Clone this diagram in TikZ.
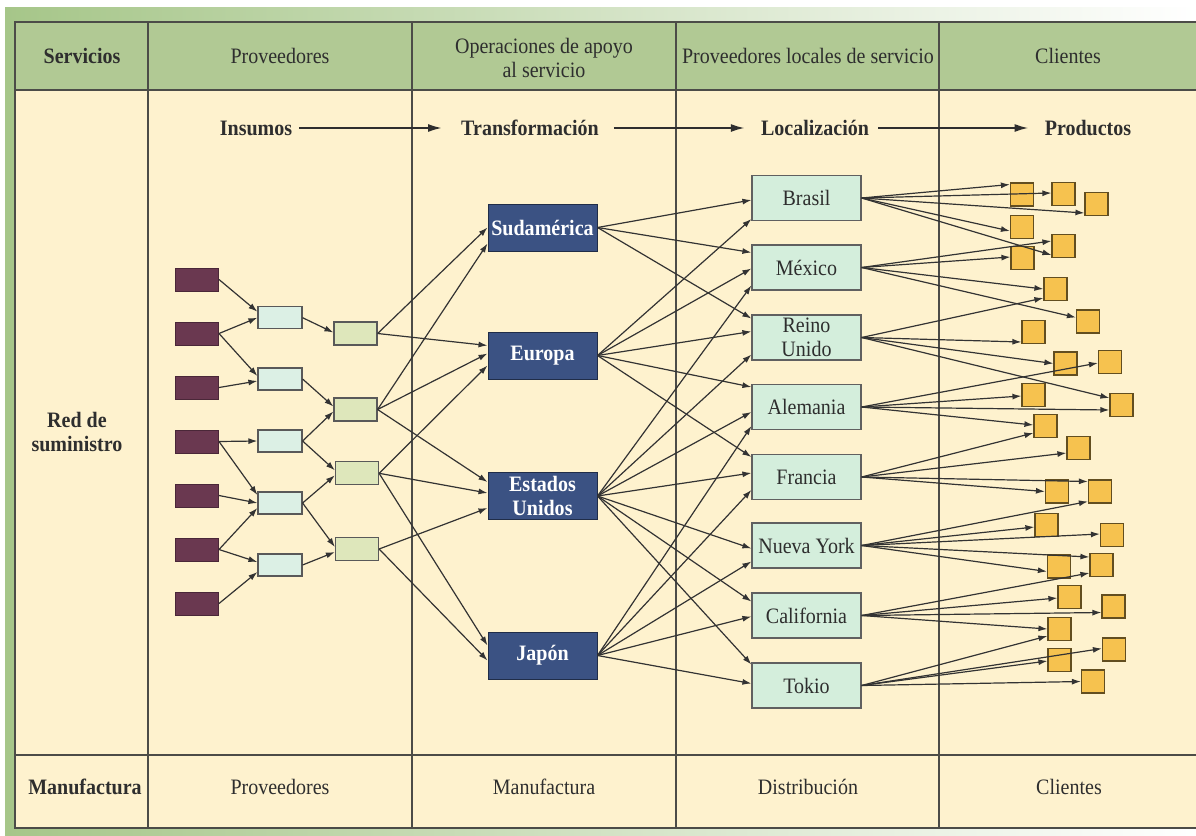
\documentclass[tikz,border=0pt]{standalone}
\usepackage{fontspec}
\setmainfont{Liberation Serif}[FakeStretch=0.91]
\usetikzlibrary{arrows.meta}

\definecolor{frameGreen}{HTML}{A6C689}
\definecolor{headGreen}{HTML}{B1C994}
\definecolor{cream}{HTML}{FEF2CE}
\definecolor{rule}{HTML}{4C4C48}
\definecolor{ink}{HTML}{2E2E2E}
\definecolor{rawred}{HTML}{6A3850}
\definecolor{mint}{HTML}{DCF0E5}
\definecolor{sage}{HTML}{DEE7BB}
\definecolor{navy}{HTML}{3B5283}
\definecolor{locfill}{HTML}{D4EEDC}
\definecolor{gold}{HTML}{F6C24F}
\definecolor{wire}{HTML}{333333}

\newcommand\diagfont{\fontsize{22}{24}\selectfont}
\newcommand\lnk[3]{\draw[link] (#1.east) -- ([yshift=#3pt]#2.west);}

\tikzset{
  every node/.style={font=\diagfont, text=ink},
  txt/.style={inner sep=0pt, align=center},
  boldtxt/.style={txt, font=\diagfont\bfseries},
  rawbox/.style={rectangle, fill=rawred, draw=rawred!70!black, line width=1pt,
    minimum width=43pt, minimum height=23pt, inner sep=0pt},
  partbox/.style={rectangle, fill=mint, draw=gray!70!black, line width=1.2pt,
    minimum width=44pt, minimum height=22pt, inner sep=0pt},
  unitbox/.style={rectangle, fill=sage, draw=gray!70!black, line width=1.2pt,
    minimum width=43pt, minimum height=23pt, inner sep=0pt},
  regionbox/.style={rectangle, fill=navy, draw=navy!55!black, line width=1pt,
    minimum width=109pt, minimum height=47pt, inner sep=0pt, align=center,
    text=white, font=\diagfont\bfseries},
  sitebox/.style={rectangle, fill=locfill, draw=gray!75!black, line width=1.2pt,
    minimum width=109pt, minimum height=45pt, inner sep=0pt, align=center},
  prodbox/.style={rectangle, fill=gold, draw=gold!40!black, line width=1.2pt,
    minimum size=23pt, inner sep=0pt},
  link/.style={draw=wire, line width=1.2pt, -{Latex[length=9pt,width=6pt]}},
  flow/.style={draw=ink, line width=2pt, -{Latex[length=14pt,width=8pt]}},
}

\begin{document}
\begin{tikzpicture}[x=1pt,y=-1pt]
\useasboundingbox (0,0) rectangle (1196,835);
\fill[white] (0,0) rectangle (1196,835);
% green frame behind the table
\shade[left color=frameGreen, right color=white] (5,7) rectangle (1196,835);

% table
\fill[headGreen] (15,22) rectangle (1200,90);
\fill[cream] (15,90) rectangle (1200,828);
\draw[rule, line width=1.5pt] (15,22) rectangle (1200,828);
\draw[rule, line width=1.8pt] (15,90) -- (1200,90);
\draw[rule, line width=1.8pt] (15,755) -- (1200,755);
\foreach \cx in {148,412,676,939}
  \draw[rule, line width=1.3pt] (\cx,22) -- (\cx,828);

% header row
\node[boldtxt] (hServ) at (82,56) {Servicios};
\node[txt] (hProv) at (280,56) {Proveedores};
\node[txt] (hOps) at (544,58) {Operaciones de apoyo\\al servicio};
\node[txt] (hLoc) at (808,56) {Proveedores locales de servicio};
\node[txt] (hCli) at (1068,56) {Clientes};

% stage labels
\node[boldtxt] (insumos) at (256,128) {Insumos};
\node[boldtxt] (transf) at (530,128) {Transformación};
\node[boldtxt] (localiz) at (815,128) {Localización};
\node[boldtxt] (productos) at (1088,128) {Productos};
\draw[flow] ([xshift=7pt]insumos.east) -- ([xshift=-19pt]transf.west);
\draw[flow] ([xshift=15pt]transf.east) -- ([xshift=-16pt]localiz.west);
\draw[flow] ([xshift=9pt]localiz.east) -- ([xshift=-16pt]productos.west);

\node[boldtxt] (red) at (77,432) {Red de\\suministro};

% footer row
\node[boldtxt] (fMan) at (85,787) {Manufactura};
\node[txt] (fProv) at (280,787) {Proveedores};
\node[txt] (fMan2) at (544,787) {Manufactura};
\node[txt] (fDist) at (808,787) {Distribución};
\node[txt] (fCli) at (1069,787) {Clientes};

% raw material sources
\foreach \n/\yy in {1/279.5,2/333.5,3/387.5,4/441.5,5/495.5,6/549.5,7/603.5}
  \node[rawbox] (m\n) at (197,\yy) {};
% parts
\foreach \n/\yy in {1/317.7,2/379,3/441,4/503,5/565}
  \node[partbox] (b\n) at (280,\yy) {};
% units
\node[unitbox] (g1) at (355.5,333.5) {};
\node[unitbox] (g2) at (355.5,409.5) {};
\node[unitbox] (g3) at (357,473.3) {};
\node[unitbox] (g4) at (357,549) {};

% regions
\node[regionbox] (sud) at (542.5,227.5) {Sudamérica};
\node[regionbox] (eur) at (542.5,355.5) {Europa};
\node[regionbox] (usa) at (542.5,496) {Estados\\Unidos};
\node[regionbox] (jap) at (542.5,655.5) {Japón};

% local providers
\node[sitebox] (bra) at (806.5,198) {Brasil};
\node[sitebox] (mex) at (806.5,267.5) {México};
\node[sitebox] (uk) at (806.5,337.5) {Reino\\Unido};
\node[sitebox] (ger) at (806.5,407) {Alemania};
\node[sitebox] (fra) at (806.5,477) {Francia};
\node[sitebox] (ny) at (806.5,545.5) {Nueva York};
\node[sitebox] (cal) at (806.5,615.5) {California};
\node[sitebox] (tok) at (806.5,685.5) {Tokio};

% products
\foreach \n/\xx/\yy in {1/1022/194.5, 2/1063.5/194, 3/1096.5/204, 4/1022/227,
  5/1063.5/246, 6/1022.5/258, 7/1055.5/289, 8/1088/321.5, 9/1033.5/332,
  10/1065.5/363.5, 11/1110/362, 12/1033.5/395, 13/1121.5/405, 14/1045.5/426,
  15/1078.5/448, 16/1057/491.5, 17/1100/491.5, 18/1046.5/525, 19/1112/535,
  20/1059/566.5, 21/1101.5/565, 22/1069.5/597, 23/1113.5/606.5, 24/1059.5/629,
  25/1114/649.5, 26/1059.5/660, 27/1093/681.5}
  \node[prodbox] (p\n) at (\xx,\yy) {};

% sources -> parts
\lnk{m1}{b1}{6}
\lnk{m2}{b1}{0}
\lnk{m2}{b2}{3}
\lnk{m3}{b2}{-2}
\lnk{m4}{b3}{0}
\lnk{m4}{b4}{8}
\lnk{m5}{b4}{0}
\lnk{m6}{b4}{-5}
\lnk{m6}{b5}{3}
\lnk{m7}{b5}{-7}
% parts -> units
\lnk{b1}{g1}{1}
\lnk{b2}{g2}{3}
\lnk{b3}{g2}{-2}
\lnk{b3}{g3}{3}
\lnk{b4}{g3}{-2}
\lnk{b4}{g4}{2}
\lnk{b5}{g4}{-3}
% units -> regions
\lnk{g1}{sud}{0}
\lnk{g2}{sud}{-16}
\lnk{g1}{eur}{10}
\lnk{g2}{eur}{2}
\lnk{g3}{eur}{-10}
\lnk{g2}{usa}{14}
\lnk{g3}{usa}{3}
\lnk{g4}{usa}{-12}
\lnk{g3}{jap}{10}
\lnk{g4}{jap}{-5}
% regions -> local providers
\lnk{sud}{bra}{-2}
\lnk{sud}{mex}{15}
\lnk{sud}{uk}{19}
\lnk{eur}{bra}{-21}
\lnk{eur}{mex}{-1}
\lnk{eur}{uk}{6}
\lnk{eur}{ger}{20}
\lnk{eur}{fra}{20}
\lnk{usa}{mex}{-18}
\lnk{usa}{uk}{-17}
\lnk{usa}{ger}{-5}
\lnk{usa}{fra}{4}
\lnk{usa}{ny}{-3}
\lnk{usa}{cal}{14}
\lnk{usa}{tok}{21}
\lnk{jap}{ger}{-19}
\lnk{jap}{fra}{-13}
\lnk{jap}{ny}{-16}
\lnk{jap}{cal}{-1}
\lnk{jap}{tok}{2}
% local providers -> products
\lnk{bra}{p1}{10}
\lnk{bra}{p2}{1}
\lnk{bra}{p3}{-9}
\lnk{bra}{p4}{-4}
\lnk{bra}{p5}{-9}
\lnk{mex}{p5}{5}
\lnk{mex}{p6}{1}
\lnk{mex}{p7}{0}
\lnk{mex}{p8}{4}
\lnk{uk}{p7}{-9}
\lnk{uk}{p9}{-10}
\lnk{uk}{p10}{0}
\lnk{uk}{p13}{7}
\lnk{ger}{p11}{-1}
\lnk{ger}{p12}{-1}
\lnk{ger}{p13}{-5}
\lnk{ger}{p14}{1}
\lnk{fra}{p14}{-7}
\lnk{fra}{p15}{-5}
\lnk{fra}{p16}{0}
\lnk{fra}{p17}{10}
\lnk{ny}{p17}{-10}
\lnk{ny}{p18}{-2}
\lnk{ny}{p19}{1}
\lnk{ny}{p20}{-5}
\lnk{ny}{p21}{8}
\lnk{cal}{p21}{-8}
\lnk{cal}{p22}{-1}
\lnk{cal}{p23}{-6}
\lnk{cal}{p24}{0}
\lnk{tok}{p24}{-7}
\lnk{tok}{p25}{1}
\lnk{tok}{p26}{-1}
\lnk{tok}{p27}{0}
\end{tikzpicture}
\end{document}
